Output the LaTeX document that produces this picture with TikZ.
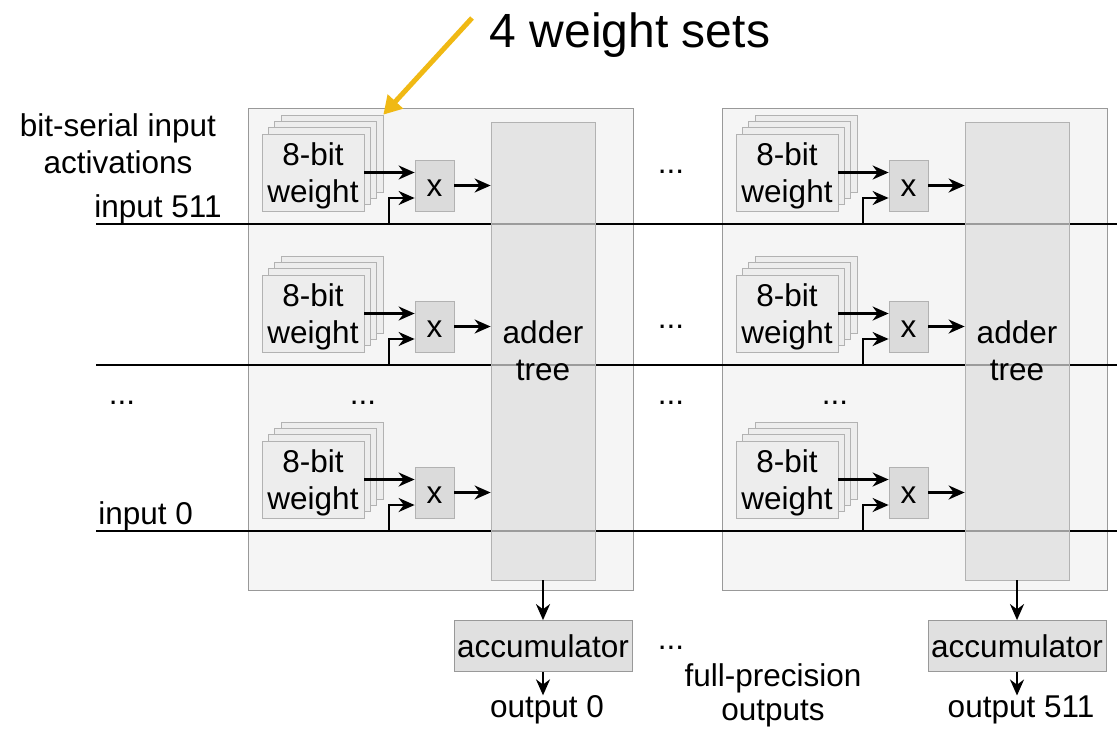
\documentclass[tikz,border=0pt]{standalone}
\usepackage{fontspec}
\setmainfont{Liberation Sans}
\usetikzlibrary{arrows.meta,positioning}
\definecolor{setyellow}{RGB}{240,185,20}
\newcommand\fs{\fontsize{15.75}{18.5}\selectfont}
\tikzset{>={Stealth[length=8pt,width=7pt]}}
\tikzset{
	panel/.style={draw=black!40, fill=black!4, minimum width=192.5pt, minimum height=241pt, inner sep=0pt},
	wbox/.style={draw=black!30, fill=black!7, minimum width=51pt, minimum height=38.5pt, inner sep=0pt},
	mult/.style={draw=black!30, fill=black!14, minimum width=19.5pt, minimum height=25.5pt, inner sep=0pt, font=\fs, text height=11pt, text depth=0pt},
	tree/.style={draw=black!30, fill=black!13, fill opacity=0.7, text opacity=1, minimum width=52pt, minimum height=229pt, inner sep=0pt, align=center, font=\fs},
	accbox/.style={draw=black!40, fill=black!12, minimum width=89pt, minimum height=25.5pt, inner sep=0pt, font=\fs},
	lbl/.style={font=\fs, inner sep=0pt, align=center},
	wire/.style={line width=1.1pt},
}

\begin{document}
\begin{tikzpicture}[x=0.5pt,y=-0.5pt]
	\useasboundingbox (0,0) rectangle (1117,728);

	% the two processing blocks
	\foreach \c/\cx in {0/0,1/474}
		\node[panel] (p\c) at (440.5+\cx,349) {};

	% bit-serial input lines
	\foreach \r/\ry in {1/0,2/141,3/307}{
		\coordinate (l\r) at (96,224+\ry);
		\coordinate (e\r) at (1117,224+\ry);
		\draw[wire] (l\r) -- (e\r);
	}

	% adder trees and accumulators
	\foreach \c/\cx/\o in {0/0/0,1/474/511}{
		\node[tree] (a\c) at (543+\cx,351) {adder\\tree};
		\node[accbox] (acc\c) at (543+\cx,646) {accumulator};
		\node[lbl] (o\c) at (547+\cx,710) {output \o};
		\draw[->,wire] (a\c.south) -- (acc\c.north);
		\draw[->,wire] (acc\c.south) -- (acc\c.south |- o\c.north);
	}

	% weight stacks and multipliers
	\foreach \c/\cx in {0/0,1/474}
		\foreach \r/\ry in {1/0,2/141,3/307}{
			\foreach \k in {3,2,1}
				\node[wbox] (w\c\r\k) at (313+\cx+6.3*\k,172.5+\ry-6.3*\k) {};
			\node[wbox, label={[lbl,yshift=-1.5pt]center:{8-bit\\weight}}] (w\c\r) at (313+\cx,172.5+\ry) {};
			\node[mult] (m\c\r) at (434.5+\cx,185.5+\ry) {x};
			\coordinate (t\c\r) at (389+\cx,224+\ry);
			\draw[->,wire] (w\c\r.east) -- (w\c\r.east -| m\c\r.west);
			\draw[->,wire] (t\c\r) |- ([yshift=-6.25pt]m\c\r.west);
			\draw[->,wire] (m\c\r.east) -- (m\c\r.east -| a\c.west);
		}

	% labels
	\node[lbl] (ws) at (630,35) {\fontsize{24}{28}\selectfont 4 weight sets};
	\coordinate (ys) at (472,18);
	\draw[setyellow, line width=2.5pt, -{Triangle[length=9pt,width=10pt]}] (ys) -- (w013.north east);

	\node[lbl, text depth=0pt] (act) at (118,144) {bit-serial input\\activations};
	\node[lbl, anchor=east] (in511) at (222,209) {input 511};
	\node[lbl, anchor=west] (in0) at (98,516) {input 0};

	\node[lbl] (d1) at (122,403) {...};
	\node[lbl] (d2) at (363,403) {...};
	\node[lbl] (d3) at (671,403) {...};
	\node[lbl] (d4) at (835,403) {...};
	\node[lbl] (d5) at (671,172) {...};
	\node[lbl] (d6) at (671,327) {...};
	\node[lbl] (d7) at (671,648) {...};
	\node[lbl, font=\fontsize{15.75}{17}\selectfont] (fp) at (773,695) {full-precision\\outputs};
\end{tikzpicture}
\end{document}
